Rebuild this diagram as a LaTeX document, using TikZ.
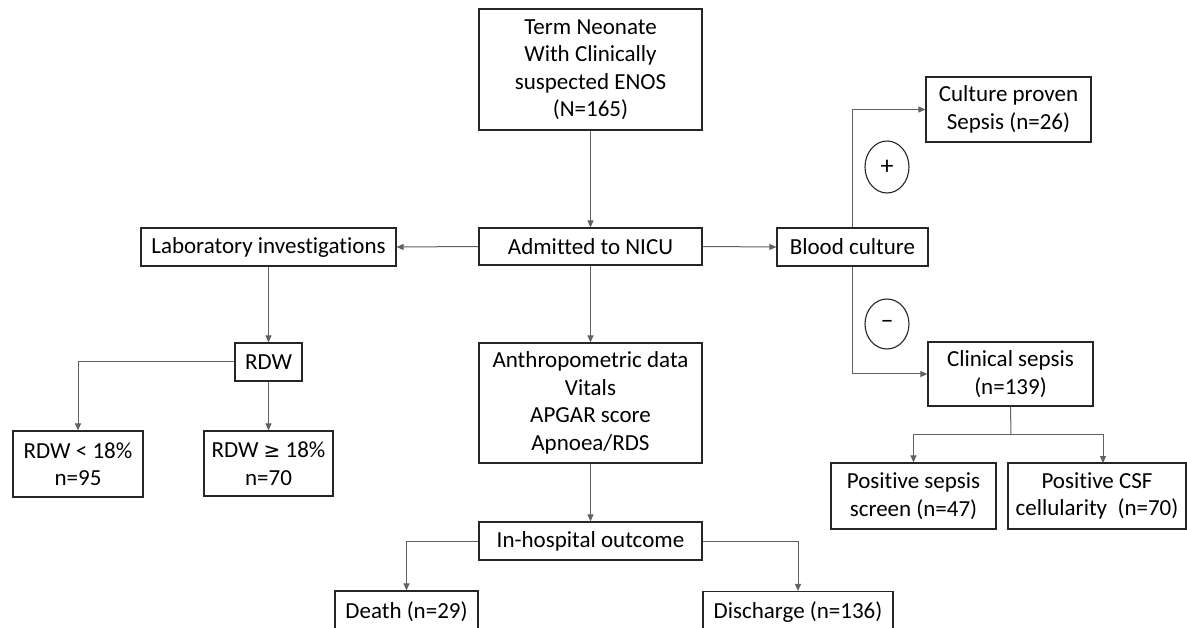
\documentclass[tikz,border=0pt]{standalone}
\usepackage{fontspec}
\setmainfont{Carlito}[Ligatures={NoCommon}]
\newfontfamily\symfont{DejaVu Sans}
\usetikzlibrary{arrows.meta,calc,shapes.geometric}
\begin{document}
\begin{tikzpicture}[x=1pt,y=-1pt,
  box/.style={draw=black!85,line width=1.2pt,align=center,inner sep=0pt,
    font=\fontsize{23}{27.5}\selectfont,text=black},
  conn/.style={draw=black!62,line width=1pt},
  arr/.style={conn,-{Triangle[length=7pt,width=6pt]}},
  sign/.style={draw=black!85,line width=1.1pt,ellipse,inner sep=0pt,font=\fontsize{26}{30}\selectfont}]
\useasboundingbox (0,0) rectangle (1187,628);
\clip (0,0) rectangle (1187,628);
\fill[white] (0,0) rectangle (1187,628);
% nodes
\node[box,minimum width=223pt,minimum height=121pt] (top) at (590.5,69.5) {Term Neonate\\With Clinically\\suspected ENOS\\(N=165)};
\node[box,minimum width=223pt,minimum height=37pt] (admit) at (590.5,246.5) {Admitted to NICU};
\node[box,minimum width=255pt,minimum height=38pt] (lab) at (268.5,247) {Laboratory investigations};
\node[box,minimum width=151pt,minimum height=38pt] (blood) at (852.5,247) {Blood culture};
\node[box,minimum width=165pt,minimum height=65pt] (culture) at (1008.5,109.5) {Culture proven\\Sepsis (n=26)};
\node[box,minimum width=165pt,minimum height=64pt] (clinical) at (1010.5,374) {Clinical sepsis\\(n=139)};
\node[box,minimum width=165pt,minimum height=66pt] (pss) at (913.5,496) {Positive sepsis\\screen (n=47)};
\node[box,minimum width=178pt,minimum height=66pt] (csf) at (1097,496) {Positive CSF\\cellularity~~(n=70)};
\node[box,minimum width=67pt,minimum height=38pt] (rdw) at (268.5,362) {RDW};
\node[box,minimum width=130pt,minimum height=66pt] (rdwlt) at (78,464) {RDW < 18\%\\n=95};
\node[box,minimum width=129pt,minimum height=65pt] (rdwge) at (268.5,463.5) {RDW {\symfont\fontsize{20}{27.5}\selectfont ≥} 18\%\\n=70};
\node[box,minimum width=223pt,minimum height=120pt] (anthro) at (590.5,403) {Anthropometric data\\Vitals\\APGAR score\\Apnoea/RDS};
\node[box,minimum width=223pt,minimum height=38pt] (outcome) at (590.5,541) {In-hospital outcome};
\node[box,minimum width=143pt,minimum height=42pt] (death) at (406.5,612) {Death (n=29)};
\node[box,minimum width=190pt,minimum height=42pt] (discharge) at (798,612.5) {Discharge (n=136)};
\node[sign,minimum width=44pt,minimum height=52pt] (plus) at (887,167) {+};
\node[sign,minimum width=44pt,minimum height=50pt] (minus) at (887,324) {–};
% coordinates
\coordinate (cs) at (1011,435);
\coordinate (csfin) at (1103,463);
% connectors
\draw[arr] (top.south) -- (admit.north);
\draw[arr] (admit.west) -- (lab.east);
\draw[arr] (admit.east) -- (blood.west);
\draw[arr] (lab.south) -- (rdw.north);
\draw[arr] (rdw.west) -| (rdwlt.north);
\draw[arr] (rdw.south) -- (rdwge.north);
\draw[arr] (admit.south) -- (anthro.north);
\draw[arr] (anthro.south) -- (outcome.north);
\draw[arr] (outcome.west) -| (death.north);
\draw[arr] (outcome.east) -| (discharge.north);
\draw[arr] (blood.north) |- (culture.west);
\draw[arr] (blood.south) |- (clinical.west);
\draw[conn] (clinical.south) -- (cs);
\draw[arr] (cs) -| (pss.north);
\draw[arr] (cs) -| (csfin);
\end{tikzpicture}
\end{document}
